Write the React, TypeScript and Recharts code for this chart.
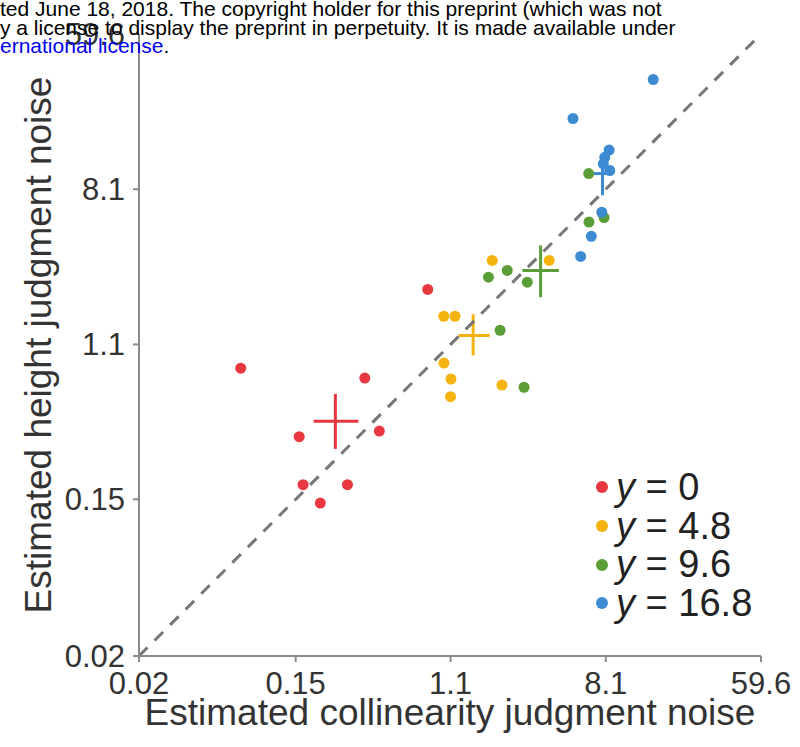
import React from 'react';
import { ScatterChart, Scatter, XAxis, YAxis, ReferenceLine, ErrorBar, Legend } from 'recharts';

const FONT = '"Liberation Sans", Arial, Helvetica, sans-serif';

// log-spaced ticks, shared by both axes
const noiseTicks = [0.02, 0.15, 1.1, 8.1, 59.6];
const noiseTickLabels = ['0.02', '0.15', '1.1', '8.1', '59.6'];

const groupLabels = ['0', '4.8', '9.6', '16.8'];
const groupColors = ['#e8383f', '#f5b30f', '#5b9e37', '#3b8ad2'];

// per-subject estimates: collinearity noise (x) vs height noise (y)
const collinearityY0 = [0.074, 0.82, 0.365, 0.157, 0.44, 0.165, 0.292, 0.206];
const heightY0 = [0.81, 2.23, 0.714, 0.336, 0.361, 0.181, 0.181, 0.143];

const collinearityY48 = [1.88, 3.91, 1.008, 1.164, 1.01, 1.106, 1.1, 2.13];
const heightY48 = [3.24, 3.24, 1.58, 1.58, 0.866, 0.705, 0.562, 0.652];

const collinearityY96 = [1.79, 2.28, 2.95, 2.08, 2.83, 6.5, 7.92, 6.52];
const heightY96 = [2.61, 2.85, 2.45, 1.32, 0.634, 9.9, 5.62, 5.31];

const collinearityY168 = [14.9, 5.31, 8.45, 7.99, 7.84, 8.52, 7.69, 6.72, 5.86];
const heightY168 = [33.2, 20.1, 13.4, 12.2, 11.2, 10.3, 6.02, 4.42, 3.41];

// group means with their error ranges
const meanCollinearity = [0.25, 1.47, 3.5, 7.76];
const collinearityLow = [0.189, 1.22, 2.77, 6.94];
const collinearityHigh = [0.336, 1.82, 4.43, 8.82];
const meanHeight = [0.409, 1.234, 2.85, 9.9];
const heightLow = [0.287, 0.954, 2.02, 7.49];
const heightHigh = [0.582, 1.62, 3.93, 11.5];

const toPoints = (xs: number[], ys: number[]) => xs.map((x, i) => ({ x, y: ys[i] }));

const groups = [
  toPoints(collinearityY0, heightY0),
  toPoints(collinearityY48, heightY48),
  toPoints(collinearityY96, heightY96),
  toPoints(collinearityY168, heightY168),
];

const means = meanCollinearity.map((x, i) => [
  {
    x,
    y: meanHeight[i],
    xErr: [x - collinearityLow[i], collinearityHigh[i] - x],
    yErr: [meanHeight[i] - heightLow[i], heightHigh[i] - meanHeight[i]],
  },
]);

const formatTick = (v: number) => noiseTickLabels[noiseTicks.indexOf(v)] ?? String(v);

const LegendContent = () => (
  <div style={{ fontFamily: FONT, fontSize: 38, color: '#222' }}>
    {groupLabels.map((g, i) => (
      <div key={g} style={{ display: 'flex', alignItems: 'center', height: 38.7 }}>
        <span
          style={{
            display: 'inline-block',
            width: 12,
            height: 12,
            borderRadius: 6,
            background: groupColors[i],
            marginRight: 8,
          }}
        />
        <span>
          <i>y</i> = {g}
        </span>
      </div>
    ))}
  </div>
);

const tickStyle = { fontFamily: FONT, fontSize: 31, fill: '#333' };
const axisLine = { stroke: '#8a8a8a', strokeWidth: 2 };

export default function App() {
  return (
    <div style={{ position: 'absolute', left: 0, top: 0, width: 800, height: 747, background: '#fff', overflow: 'hidden' }}>
      <ScatterChart width={800} height={747} margin={{ top: 34, right: 39, bottom: 11, left: 0 }}>
        <XAxis
          type="number"
          dataKey="x"
          scale="log"
          domain={[0.02, 59.6]}
          allowDataOverflow
          ticks={noiseTicks}
          tickFormatter={formatTick}
          tick={tickStyle}
          tickSize={6}
          tickMargin={10}
          axisLine={axisLine}
          tickLine={axisLine}
          height={80}
          label={{
            value: 'Estimated collinearity judgment noise',
            position: 'insideBottom',
            offset: 11,
            style: { fontFamily: FONT, fontSize: 37, fill: '#333' },
          }}
        />
        <YAxis
          type="number"
          dataKey="y"
          scale="log"
          domain={[0.02, 59.6]}
          allowDataOverflow
          ticks={noiseTicks}
          tickFormatter={formatTick}
          tick={tickStyle}
          tickSize={6}
          tickMargin={8}
          axisLine={axisLine}
          tickLine={axisLine}
          width={139}
          label={{
            value: 'Estimated height judgment noise',
            angle: -90,
            position: 'insideLeft',
            offset: 38,
            style: { fontFamily: FONT, fontSize: 37, fill: '#333', textAnchor: 'middle' },
          }}
        />
        {groups.map((pts, i) => (
          <Scatter
            key={groupLabels[i]}
            name={`y = ${groupLabels[i]}`}
            data={pts}
            fill={groupColors[i]}
            isAnimationActive={false}
            shape={(p: any) => <circle cx={p.cx} cy={p.cy} r={5.5} fill={groupColors[i]} />}
          />
        ))}
        {means.map((m, i) => (
          <Scatter
            key={'mean' + groupLabels[i]}
            data={m}
            legendType="none"
            isAnimationActive={false}
            shape={() => <g />}
          >
            <ErrorBar dataKey="xErr" direction="x" width={0} stroke={groupColors[i]} strokeWidth={3} isAnimationActive={false} />
            <ErrorBar dataKey="yErr" direction="y" width={0} stroke={groupColors[i]} strokeWidth={3} isAnimationActive={false} />
          </Scatter>
        ))}
        <ReferenceLine
          segment={[
            { x: 0.02, y: 0.02 },
            { x: 59.6, y: 59.6 },
          ]}
          stroke="#767676"
          strokeWidth={3}
          strokeDasharray="12 10"
        />
        <Legend
          layout="vertical"
          align="center"
          verticalAlign="middle"
          content={<LegendContent />}
          wrapperStyle={{ left: 596, top: 468, width: 200, bottom: 'auto', right: 'auto' }}
        />
      </ScatterChart>
      <div
        style={{
          position: 'absolute',
          left: 0,
          top: 0,
          fontFamily: FONT,
          fontSize: 21,
          lineHeight: '18.5px',
          color: '#000',
          whiteSpace: 'nowrap',
        }}
      >
        <div>ted June 18, 2018. The copyright holder for this preprint (which was not</div>
        <div>y a license to display the preprint in perpetuity. It is made available under</div>
        <div>
          <span style={{ color: '#0000ee' }}>ernational license</span>.
        </div>
      </div>
    </div>
  );
}
